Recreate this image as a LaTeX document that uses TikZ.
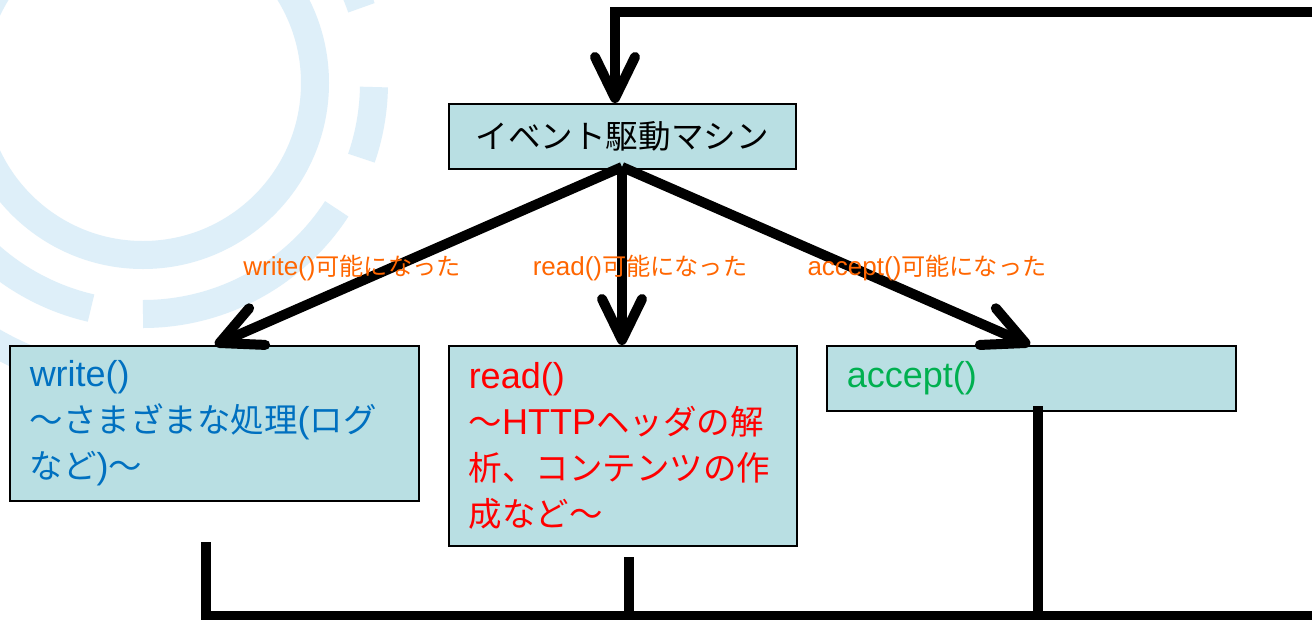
\documentclass[tikz,border=0pt]{standalone}
\usepackage{fontspec}
\setmainfont{Liberation Sans}
\newfontfamily\jp[Scale=0.93]{Noto Sans CJK JP}
\newcommand\J[1]{{\jp #1}}
\usetikzlibrary{arrows.meta}
\definecolor{ringc}{RGB}{222,239,249}
\definecolor{boxfill}{RGB}{185,223,227}
\definecolor{lblc}{RGB}{255,102,0}
\definecolor{wblue}{RGB}{0,112,192}
\definecolor{rred}{RGB}{255,0,0}
\definecolor{agreen}{RGB}{0,176,80}
\begin{document}
\begin{tikzpicture}[x=1pt,y=-1pt,
  ring/.style={draw=ringc,line width=28pt},
  box/.style={draw=black,line width=1.5pt,fill=boxfill,anchor=north west,inner xsep=20pt,inner ysep=0pt,align=left,font=\fontsize{36}{46}\selectfont},
  conn/.style={draw=black,line width=10pt},
  arr/.style={conn,-{Straight Barb[length=41pt,width=40pt,round]}},
  lbl/.style={text=lblc,font=\fontsize{26}{30}\selectfont,inner sep=0pt}]
\useasboundingbox (0,0) rectangle (1312,619);
\fill[white] (0,0) rectangle (1312,619);
% background rings
\begin{scope}
\clip (0,0) rectangle (1312,619);
\coordinate (c) at (143,83);
\draw[ring] (c) circle[radius=172];
\draw[ring] (c) ++(-60:231) arc[start angle=-60,end angle=-19,radius=231];
\draw[ring] (c) ++(1:231) arc[start angle=1,end angle=19,radius=231];
\draw[ring] (c) ++(33:231) arc[start angle=33,end angle=90,radius=231];
\draw[ring] (c) ++(103:231) arc[start angle=103,end angle=200,radius=231];
\draw[ring] (c) ++(105:299) arc[start angle=105,end angle=170,radius=299];
\end{scope}
% boxes
\node[box,minimum width=347pt,minimum height=65pt,align=center,inner xsep=0pt,font=\fontsize{35}{40}\selectfont] (hdr) at (448,103) {\J{イベント駆動マシン}};
\node[box,text width=369pt,minimum height=155pt,text=wblue] (wbox) at (9,345) {write()\\\J{～さまざまな処理}(\J{ログ}\\\J{など})\J{～}};
\node[box,text width=308pt,minimum height=200pt,text=rred] (rbox) at (448,345) {read()\\\J{～}HTTP\J{ヘッダの解}\\\J{析、コンテンツの作}\\\J{成など～}};
\node[box,text width=369pt,minimum height=65pt,text=agreen] (abox) at (826,345) {accept()};
% coordinates
\coordinate (fbR) at (1325,12);
\coordinate (fbC) at (615,12);
\coordinate (src) at (622,167);
\coordinate (wtip) at (215,345);
\coordinate (rtip) at (622,345);
\coordinate (atip) at (1030,345);
\coordinate (bw) at (206,542);
\coordinate (br) at (629,557);
\coordinate (ba) at (1038,406);
\coordinate (bR) at (1325,616);
% connectors
\draw[arr] (fbR) -- (fbC) -- (fbC |- hdr.north);
\draw[arr] (src) -- (wtip);
\draw[arr] (src) -- (rtip);
\draw[arr] (src) -- (atip);
\draw[conn] (bw) |- (bR);
\draw[conn] (br) -- (br |- bR);
\draw[conn] (ba) -- (ba |- bR);
% labels
\node[lbl] (lw) at (352,268) {write()\J{可能になった}};
\node[lbl] (lr) at (640,268) {read()\J{可能になった}};
\node[lbl] (la) at (927,268) {accept()\J{可能になった}};
\end{tikzpicture}
\end{document}
